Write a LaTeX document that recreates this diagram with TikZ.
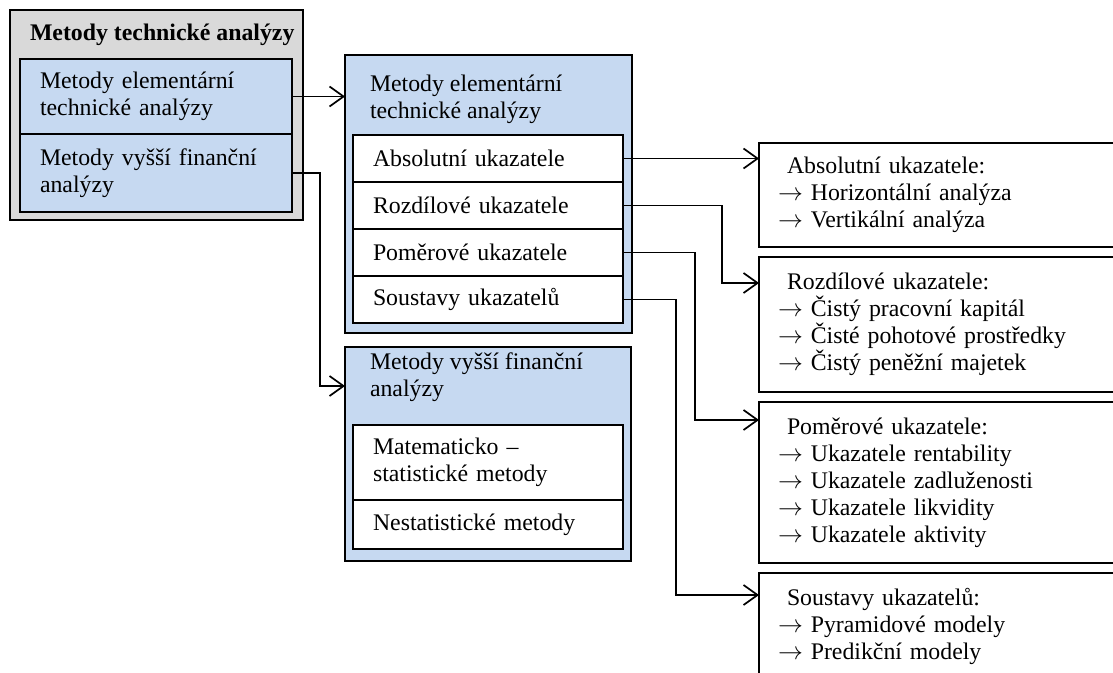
\documentclass[tikz,border=0pt]{standalone}
\usepackage{fontspec}
\setmainfont{Liberation Serif}
\usetikzlibrary{positioning,arrows.meta}
\definecolor{graybg}{RGB}{217,217,217}
\definecolor{bluebg}{RGB}{198,217,241}
\newcommand{\listarrow}{$\rightarrow$\ }
\begin{document}
\begin{tikzpicture}[x=1pt,y=-1pt,font=\fontsize{23.8}{27}\selectfont,
  every node/.style={outer sep=0pt},
  group box/.style={draw,fill=graybg,line width=1.2pt,anchor=north west,inner sep=0pt},
  blue cell/.style={draw,fill=bluebg,line width=1.2pt,anchor=north west,align=left,inner xsep=20pt,inner ysep=0pt,text width=232pt,minimum width=272pt},
  white cell/.style={draw,fill=white,line width=1.2pt,anchor=north west,align=left,inner xsep=20pt,inner ysep=0pt,text width=230pt,minimum width=270pt},
  list box/.style={draw,fill=white,line width=1.2pt,anchor=north west,align=left,inner xsep=19pt,inner ysep=0pt,text width=330pt,minimum width=368pt},
  title/.style={anchor=west,inner sep=0pt,align=left},
  link/.style={-{Straight Barb[length=14pt,width=20pt]},line width=1.7pt}]
  \useasboundingbox (0,0) rectangle (1113,672);

  \node[group box,minimum width=293pt,minimum height=210pt] (tech) at (10,10) {};
  \node[title] (techTitle) at (30,35) {\bfseries Metody technické analýzy};
  \node[blue cell,minimum height=75pt] (elem) at (20,59) {Metody elementární\\technické analýzy};
  \node[blue cell,minimum height=78pt] (vyssi) [below=0pt of elem] {Metody vyšší finanční\\analýzy};

  \node[group box,fill=bluebg,minimum width=287pt,minimum height=278pt] (elemBox) at (345,55) {};
  \node[title] (elemTitle) at (370,99) {Metody elementární\\technické analýzy};
  \node[white cell,minimum height=47pt] (absU) at (353,135) {Absolutní ukazatele};
  \node[white cell,minimum height=47pt] (rozU) [below=0pt of absU] {Rozdílové ukazatele};
  \node[white cell,minimum height=47pt] (pomU) [below=0pt of rozU] {Poměrové ukazatele};
  \node[white cell,minimum height=47pt] (souU) [below=0pt of pomU] {Soustavy ukazatelů};

  \node[group box,fill=bluebg,minimum width=286pt,minimum height=214pt] (vyssiBox) at (345,347) {};
  \node[title] (vyssiTitle) at (370,377) {Metody vyšší finanční\\analýzy};
  \node[white cell,minimum height=75pt] (matU) at (353,425) {Matematicko –\\statistické metody};
  \node[white cell,minimum height=49pt] (nesU) [below=0pt of matU] {Nestatistické metody};

  \node[list box,minimum height=104pt] (absL) at (759,143) {\hspace*{9pt}Absolutní ukazatele:\\\listarrow Horizontální analýza\\\listarrow Vertikální analýza};
  \node[list box,minimum height=135pt] (rozL) at (759,257) {\hspace*{9pt}Rozdílové ukazatele:\\\listarrow Čistý pracovní kapitál\\\listarrow Čisté pohotové prostředky\\\listarrow Čistý peněžní majetek};
  \node[list box,minimum height=161pt] (pomL) at (759,402) {\hspace*{9pt}Poměrové ukazatele:\\\listarrow Ukazatele rentability\\\listarrow Ukazatele zadluženosti\\\listarrow Ukazatele likvidity\\\listarrow Ukazatele aktivity};
  \node[list box,minimum height=107pt] (souL) at (759,573) {\hspace*{9pt}Soustavy ukazatelů:\\\listarrow Pyramidové modely\\\listarrow Predikční modely};

  \draw[link] (elem.east) -- (elem.east -| elemBox.west);
  \draw[link] (vyssi.east) -- ++(28,0) |- ([yshift=-39pt]vyssiBox.north west);
  \draw[link] (absU.east) -- (absU.east -| absL.west);
  \draw[link] (rozU.east) -- ++(99,0) |- ([yshift=-26pt]rozL.north west);
  \draw[link] (pomU.east) -- ++(72,0) |- ([yshift=-18pt]pomL.north west);
  \draw[link] (souU.east) -- ++(53,0) |- ([yshift=-22pt]souL.north west);
\end{tikzpicture}
\end{document}
